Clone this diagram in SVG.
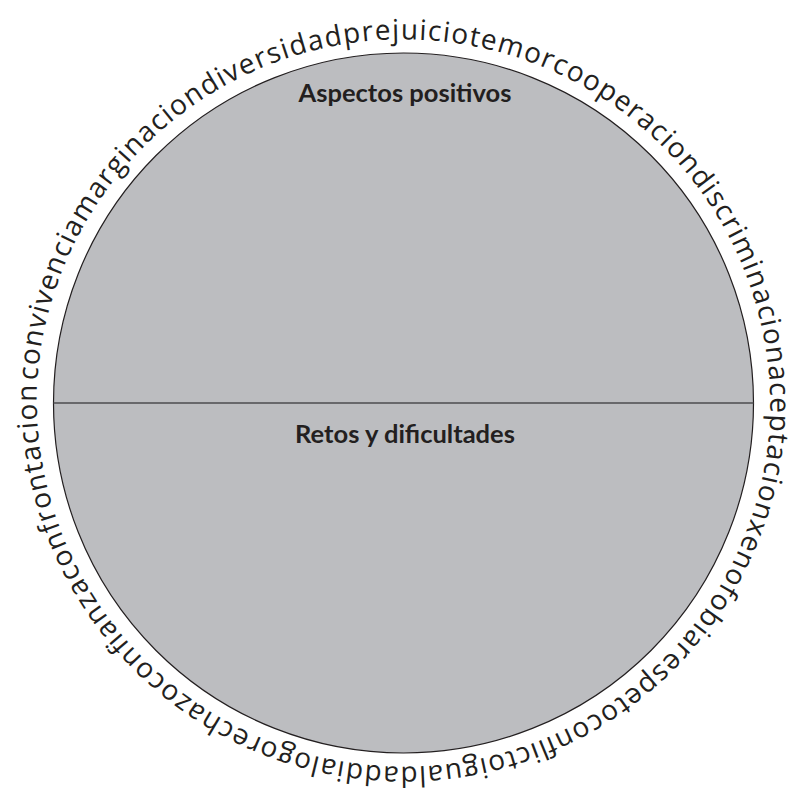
<svg xmlns="http://www.w3.org/2000/svg" xmlns:xlink="http://www.w3.org/1999/xlink" width="792" height="801" viewBox="0 0 792 801">
  <style>
    .ring { fill: #231f20; font-family: "Open Sans", "Noto Sans", sans-serif; font-size: 28px; font-weight: 400; }
    .label { fill: #231f20; font-family: "Lato", "Open Sans", sans-serif; font-size: 25.5px; font-weight: 700; text-anchor: middle; }
  </style>
  <defs>
    <path id="ringPath" d="M 37.2 380.6 A 367 367 0 0 1 769.8 425.4 A 367 367 0 0 1 37.2 380.6 A 367 367 0 0 1 769.8 425.4"/>
  </defs>
  <rect width="792" height="801" fill="#ffffff"/>
  <g id="circle">
    <circle cx="403.5" cy="403" r="350" fill="#bcbdc0" stroke="#231f20" stroke-width="1.2"/>
  </g>
  <g id="connectors">
    <line x1="53.5" y1="403" x2="753.5" y2="403" stroke="#4d4d4f" stroke-width="1.6"/>
  </g>
  <g id="top-label">
    <text class="label" x="405" y="102">Aspectos positivos</text>
  </g>
  <g id="bottom-label">
    <text class="label" x="405" y="443">Retos y dificultades</text>
  </g>
  <g id="ring-text">
    <text class="ring" textLength="2287" lengthAdjust="spacing"><textPath xlink:href="#ringPath" href="#ringPath">convivenciamarginaciondiversidadprejuiciotemorcooperaciondiscriminacionaceptacionxenofobiarespetoconflictoigualdaddialogorechazoconfianzaconfrontacion</textPath></text>
  </g>
</svg>
